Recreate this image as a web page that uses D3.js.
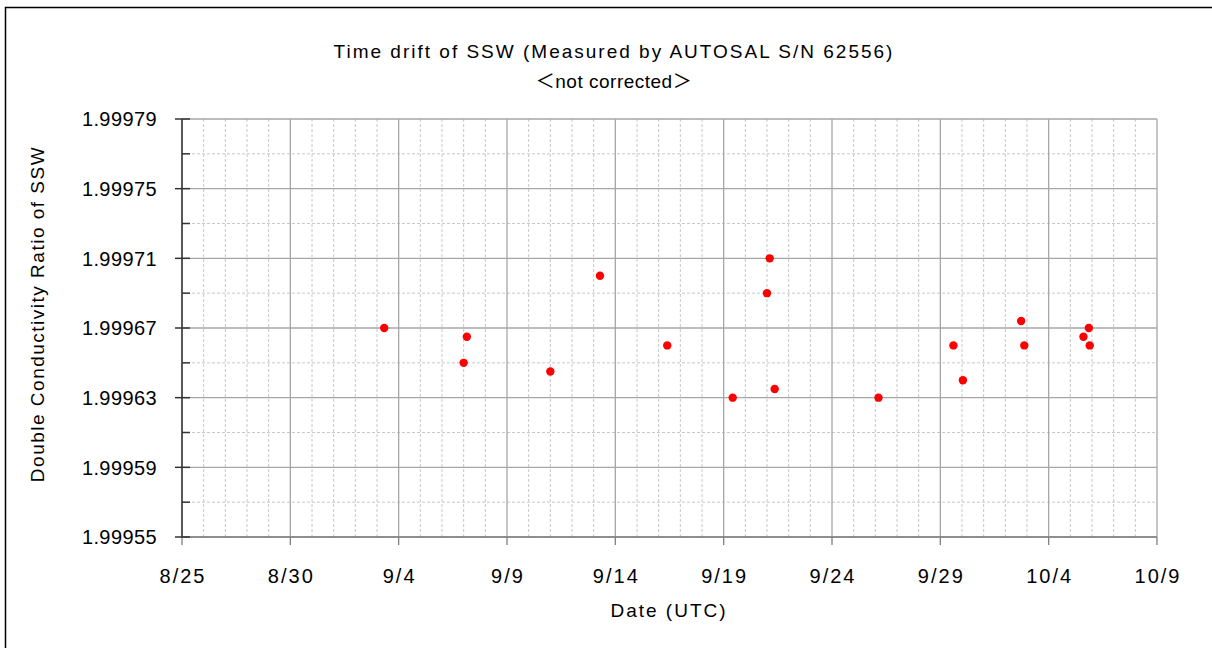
<!DOCTYPE html>
<html>
<head>
<meta charset="utf-8">
<script src="https://cdn.jsdelivr.net/npm/d3@7"></script>
<style>
  body { margin: 0; background: #fff; }
  svg text { font-family: "Liberation Sans", Arial, "Noto Sans CJK JP", sans-serif; fill: #000; }
</style>
</head>
<body>
<svg class="chart" width="1212" height="648"></svg>
<script>
// measurement times (UTC) and double conductivity ratio
var times = ["2019-09-03T08:00", "2019-09-07T00:00", "2019-09-07T03:30", "2019-09-11T00:00",
             "2019-09-13T07:00", "2019-09-16T09:30", "2019-09-19T10:00", "2019-09-21T00:00",
             "2019-09-21T03:00", "2019-09-21T08:30", "2019-09-26T03:30", "2019-09-29T14:30",
             "2019-09-30T01:00", "2019-10-02T17:30", "2019-10-02T21:00", "2019-10-05T14:30",
             "2019-10-05T20:30", "2019-10-05T21:30"];
var ratios = [1.99967, 1.99965, 1.999665, 1.999645,
              1.99970, 1.99966, 1.99963, 1.99969,
              1.99971, 1.999635, 1.99963, 1.99966,
              1.99964, 1.999674, 1.99966, 1.999665,
              1.99967, 1.99966];

var yTicks = [1.99955, 1.99959, 1.99963, 1.99967, 1.99971, 1.99975, 1.99979];
var yMinor = [1.99957, 1.99961, 1.99965, 1.99969, 1.99973, 1.99977];
var xStart = "2019-08-25", xEnd = "2019-10-09";

var parse = d3.utcParse("%Y-%m-%dT%H:%M"),
    parseDay = d3.utcParse("%Y-%m-%d");

var data = times.map(function(t, i) { return { date: parse(t), value: ratios[i] }; });

var svg = d3.select(".chart"),
    pLeft = 182, pRight = 1157, pTop = 119, pBottom = 537;

var x = d3.scaleUtc()
    .domain([parseDay(xStart), parseDay(xEnd)])
    .range([pLeft, pRight]);

var y = d3.scaleLinear()
    .domain([yTicks[0], yTicks[yTicks.length - 1]])
    .range([pBottom, pTop]);

var xMajor = d3.range(0, 10).map(function(i) { return d3.utcDay.offset(x.domain()[0], i * 5); });
var xMinorDays = d3.utcDay.range(x.domain()[0], x.domain()[1]).filter(function(d, i) { return i % 5 != 0; });

// outer frame
svg.append("rect")
    .attr("x", 5.5).attr("y", 7.5)
    .attr("width", 1215).attr("height", 650)
    .attr("fill", "none").attr("stroke", "#000").attr("stroke-width", 1.5);

// minor grid
svg.append("g").selectAll("line")
    .data(xMinorDays)
  .enter().append("line")
    .attr("x1", function(d) { return x(d); }).attr("x2", function(d) { return x(d); })
    .attr("y1", pTop).attr("y2", pBottom)
    .attr("stroke", "#c8c8c8").attr("stroke-dasharray", "3,2");

svg.append("g").selectAll("line")
    .data(yMinor)
  .enter().append("line")
    .attr("x1", pLeft).attr("x2", pRight)
    .attr("y1", function(d) { return y(d); }).attr("y2", function(d) { return y(d); })
    .attr("stroke", "#c8c8c8").attr("stroke-dasharray", "3,2");

// major grid
svg.append("g").selectAll("line")
    .data(xMajor)
  .enter().append("line")
    .attr("x1", function(d) { return x(d); }).attr("x2", function(d) { return x(d); })
    .attr("y1", pTop).attr("y2", pBottom)
    .attr("stroke", "#a6a6a6").attr("stroke-width", 1.3);

svg.append("g").selectAll("line")
    .data(yTicks)
  .enter().append("line")
    .attr("x1", pLeft).attr("x2", pRight)
    .attr("y1", function(d) { return y(d); }).attr("y2", function(d) { return y(d); })
    .attr("stroke", "#a6a6a6").attr("stroke-width", 1.3);

// x axis
svg.append("line")
    .attr("x1", pLeft).attr("x2", pRight).attr("y1", pBottom).attr("y2", pBottom)
    .attr("stroke", "#808080").attr("stroke-width", 1.3);

var xAxis = svg.append("g");
xAxis.selectAll("line")
    .data(xMajor)
  .enter().append("line")
    .attr("x1", function(d) { return x(d); }).attr("x2", function(d) { return x(d); })
    .attr("y1", pBottom).attr("y2", pBottom + 8)
    .attr("stroke", "#808080").attr("stroke-width", 1.3);
xAxis.selectAll("text")
    .data(xMajor)
  .enter().append("text")
    .attr("x", function(d) { return x(d) + 1; })
    .attr("y", 583)
    .attr("text-anchor", "middle")
    .style("font-size", "20px")
    .style("letter-spacing", "2px")
    .text(d3.utcFormat("%-m/%-d"));

// y axis
svg.append("line")
    .attr("x1", pLeft).attr("x2", pLeft).attr("y1", pTop).attr("y2", pBottom)
    .attr("stroke", "#333").attr("stroke-width", 1.5);

var yAxis = svg.append("g");
yAxis.selectAll("line.major")
    .data(yTicks)
  .enter().append("line")
    .attr("class", "major")
    .attr("x1", pLeft - 7).attr("x2", pLeft + 8)
    .attr("y1", function(d) { return y(d); }).attr("y2", function(d) { return y(d); })
    .attr("stroke", "#333").attr("stroke-width", 1.5);
yAxis.selectAll("line.minor")
    .data(yMinor)
  .enter().append("line")
    .attr("class", "minor")
    .attr("x1", pLeft).attr("x2", pLeft + 8)
    .attr("y1", function(d) { return y(d); }).attr("y2", function(d) { return y(d); })
    .attr("stroke", "#333").attr("stroke-width", 1.5);
yAxis.selectAll("text")
    .data(yTicks)
  .enter().append("text")
    .attr("x", 157)
    .attr("y", function(d) { return y(d); })
    .attr("dy", "0.36em")
    .attr("text-anchor", "end")
    .style("font-size", "20px")
    .style("letter-spacing", "0.4px")
    .text(d3.format(".5f"));

// points
svg.append("g").selectAll("circle")
    .data(data)
  .enter().append("circle")
    .attr("cx", function(d) { return x(d.date); })
    .attr("cy", function(d) { return y(d.value); })
    .attr("r", 4.2)
    .attr("fill", "#ff0000");

// titles
svg.append("text")
    .attr("x", 614).attr("y", 58)
    .attr("text-anchor", "middle")
    .style("font-size", "19px")
    .style("letter-spacing", "2px")
    .text("Time drift of SSW (Measured by AUTOSAL S/N 62556)");
svg.append("text")
    .attr("x", 614).attr("y", 88)
    .attr("text-anchor", "middle")
    .style("font-size", "19px")
    .style("letter-spacing", "0.5px")
    .text("＜not corrected＞");

svg.append("text")
    .attr("x", 669).attr("y", 617)
    .attr("text-anchor", "middle")
    .style("font-size", "19px")
    .style("letter-spacing", "2px")
    .text("Date (UTC)");

svg.append("text")
    .attr("transform", "translate(44,314) rotate(-90)")
    .attr("text-anchor", "middle")
    .style("font-size", "19px")
    .style("letter-spacing", "1.5px")
    .text("Double Conductivity Ratio of SSW");
</script>
</body>
</html>
